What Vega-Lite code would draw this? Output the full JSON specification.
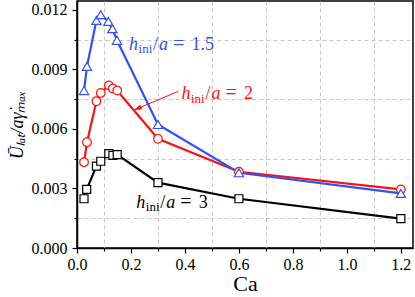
{
  "$schema": "https://vega.github.io/schema/vega-lite/v6.json",
  "width": 336,
  "height": 247,
  "autosize": {"type": "none"},
  "padding": {"left": 77, "top": 1, "right": 2, "bottom": 49},
  "background": "white",
  "config": {
    "view": {"stroke": "black", "strokeWidth": 1.5},
    "font": "Liberation Serif"
  },
  "resolve": {"axis": {"x": "independent", "y": "independent"}},
  "datasets": {
    "series": [
      {"s": "3", "Ca": 0.026, "U": 0.00248},
      {"s": "3", "Ca": 0.036, "U": 0.00295},
      {"s": "3", "Ca": 0.072, "U": 0.00412},
      {"s": "3", "Ca": 0.088, "U": 0.00437},
      {"s": "3", "Ca": 0.118, "U": 0.00475},
      {"s": "3", "Ca": 0.133, "U": 0.00467},
      {"s": "3", "Ca": 0.149, "U": 0.0047},
      {"s": "3", "Ca": 0.3, "U": 0.00329},
      {"s": "3", "Ca": 0.6, "U": 0.00248},
      {"s": "3", "Ca": 1.2, "U": 0.00148},
      {"s": "2", "Ca": 0.026, "U": 0.00432},
      {"s": "2", "Ca": 0.037, "U": 0.00533},
      {"s": "2", "Ca": 0.072, "U": 0.00739},
      {"s": "2", "Ca": 0.088, "U": 0.00781},
      {"s": "2", "Ca": 0.118, "U": 0.00819},
      {"s": "2", "Ca": 0.133, "U": 0.00803},
      {"s": "2", "Ca": 0.149, "U": 0.00793},
      {"s": "2", "Ca": 0.3, "U": 0.0055},
      {"s": "2", "Ca": 0.6, "U": 0.00384},
      {"s": "2", "Ca": 1.2, "U": 0.00295},
      {"s": "1.5", "Ca": 0.026, "U": 0.00793},
      {"s": "1.5", "Ca": 0.037, "U": 0.00915},
      {"s": "1.5", "Ca": 0.072, "U": 0.01146},
      {"s": "1.5", "Ca": 0.088, "U": 0.01175},
      {"s": "1.5", "Ca": 0.116, "U": 0.01141},
      {"s": "1.5", "Ca": 0.131, "U": 0.01105},
      {"s": "1.5", "Ca": 0.148, "U": 0.01046},
      {"s": "1.5", "Ca": 0.3, "U": 0.00622},
      {"s": "1.5", "Ca": 0.6, "U": 0.00379},
      {"s": "1.5", "Ca": 1.2, "U": 0.00275}
    ],
    "labels": [
      {"s": "1.5", "Ca": 0.193, "U": 0.00999, "value": "1.5"},
      {"s": "2", "Ca": 0.387, "U": 0.00748, "value": "2"},
      {"s": "3", "Ca": 0.220, "U": 0.00203, "value": "3"}
    ],
    "arrow": [
      {"Ca": 0.375, "U": 0.00789, "Ca2": 0.226, "U2": 0.00703}
    ]
  },
  "layer": [
    {
      "data": {"name": "series"},
      "mark": {"type": "line", "strokeWidth": 2.2},
      "encoding": {
        "x": {
          "field": "Ca", "type": "quantitative",
          "scale": {"domain": [0, 1.245], "nice": false, "zero": false},
          "axis": {
            "orient": "bottom",
            "title": "Ca",
            "titleFont": "Liberation Serif",
            "titleFontSize": 22,
            "titleFontWeight": "normal",
            "titleColor": "black",
            "titlePadding": 1,
            "values": [0, 0.2, 0.4, 0.6, 0.8, 1.0, 1.2],
            "format": ".1f",
            "labelFont": "Liberation Serif",
            "labelFontSize": 16,
            "labelColor": "black",
            "labelPadding": 3,
            "labelFlush": false,
            "labelOverlap": false,
            "domainColor": "black",
            "domainWidth": 1.5,
            "tickColor": "black",
            "tickWidth": 1.2,
            "tickSize": 5,
            "grid": false,
            "zindex": 1
          }
        },
        "y": {
          "field": "U", "type": "quantitative",
          "scale": {"domain": [0, 0.01244], "nice": false},
          "axis": {
            "orient": "left",
            "title": "Ūₗₐₜ/aγ̇ₘₐₓ",
            "titleFont": "Liberation Serif",
            "titleFontSize": 18,
            "titleFontStyle": "italic",
            "titleFontWeight": "normal",
            "titleColor": "black",
            "titlePadding": 5,
            "values": [0, 0.003, 0.006, 0.009, 0.012],
            "format": ".3f",
            "labelFont": "Liberation Serif",
            "labelFontSize": 16,
            "labelColor": "black",
            "labelPadding": 5,
            "labelFlush": false,
            "labelOverlap": false,
            "domainColor": "black",
            "domainWidth": 1.5,
            "tickColor": "black",
            "tickWidth": 1.2,
            "tickSize": 5,
            "grid": false,
            "zindex": 1
          }
        },
        "color": {
          "field": "s", "type": "nominal",
          "scale": {"domain": ["3", "2", "1.5"], "range": ["#000000", "#ff1010", "#3050f8"]},
          "legend": null
        },
        "order": {"field": "Ca", "type": "quantitative"}
      }
    },
    {
      "data": {"name": "series"},
      "mark": {"type": "point", "filled": false, "fill": "white", "fillOpacity": 1, "strokeWidth": 1.2, "opacity": 1},
      "encoding": {
        "x": {
          "field": "Ca", "type": "quantitative",
          "axis": {
            "orient": "bottom",
            "title": null,
            "values": [0.1, 0.3, 0.5, 0.7, 0.9, 1.1],
            "labels": false,
            "domain": false,
            "tickColor": "black",
            "tickWidth": 1.2,
            "tickSize": 3,
            "grid": true,
            "gridColor": "#c8c8c8",
            "gridDash": [4, 3],
            "gridWidth": 1,
            "zindex": 0
          }
        },
        "y": {
          "field": "U", "type": "quantitative",
          "axis": {
            "orient": "left",
            "title": null,
            "values": [0.0015, 0.0045, 0.0075, 0.0105],
            "labels": false,
            "domain": false,
            "tickColor": "black",
            "tickWidth": 1.2,
            "tickSize": 3,
            "grid": true,
            "gridColor": "#c8c8c8",
            "gridDash": [4, 3],
            "gridWidth": 1,
            "zindex": 0
          }
        },
        "color": {"field": "s", "type": "nominal", "legend": null},
        "shape": {
          "field": "s", "type": "nominal",
          "scale": {"domain": ["3", "2", "1.5"], "range": ["square", "circle", "triangle-up"]},
          "legend": null
        },
        "size": {
          "field": "s", "type": "nominal",
          "scale": {"domain": ["3", "2", "1.5"], "range": [64, 85, 110]},
          "legend": null
        }
      }
    },
    {
      "data": {"name": "arrow"},
      "mark": {"type": "rule", "color": "#ff1010", "strokeWidth": 1},
      "encoding": {
        "x": {"field": "Ca", "type": "quantitative", "axis": null},
        "y": {"field": "U", "type": "quantitative", "axis": null},
        "x2": {"field": "Ca2"},
        "y2": {"field": "U2"}
      }
    },
    {
      "data": {"name": "arrow"},
      "mark": {"type": "point", "shape": "M0,-1L0.5,0.7L-0.5,0.7Z", "filled": true, "color": "#ff1010", "size": 100, "angle": 247, "opacity": 1},
      "encoding": {
        "x": {"field": "Ca2", "type": "quantitative", "axis": null},
        "y": {"field": "U2", "type": "quantitative", "axis": null}
      }
    },
    {
      "data": {"name": "labels"},
      "mark": {"type": "text", "align": "left", "baseline": "alphabetic", "font": "Liberation Serif", "fontSize": 18, "fontStyle": "italic"},
      "encoding": {
        "x": {"field": "Ca", "type": "quantitative", "axis": null},
        "y": {"field": "U", "type": "quantitative", "axis": null},
        "text": {"value": "h"},
        "color": {"field": "s", "type": "nominal", "legend": null}
      }
    },
    {
      "data": {"name": "labels"},
      "mark": {"type": "text", "align": "left", "baseline": "alphabetic", "font": "Liberation Serif", "fontSize": 13, "dx": 9.5, "dy": 3.5},
      "encoding": {
        "x": {"field": "Ca", "type": "quantitative", "axis": null},
        "y": {"field": "U", "type": "quantitative", "axis": null},
        "text": {"value": "ini"},
        "color": {"field": "s", "type": "nominal", "legend": null}
      }
    },
    {
      "data": {"name": "labels"},
      "mark": {"type": "text", "align": "left", "baseline": "alphabetic", "font": "Liberation Serif", "fontSize": 18, "dx": 24},
      "encoding": {
        "x": {"field": "Ca", "type": "quantitative", "axis": null},
        "y": {"field": "U", "type": "quantitative", "axis": null},
        "text": {"value": "/"},
        "color": {"field": "s", "type": "nominal", "legend": null}
      }
    },
    {
      "data": {"name": "labels"},
      "mark": {"type": "text", "align": "left", "baseline": "alphabetic", "font": "Liberation Serif", "fontSize": 18, "fontStyle": "italic", "dx": 30},
      "encoding": {
        "x": {"field": "Ca", "type": "quantitative", "axis": null},
        "y": {"field": "U", "type": "quantitative", "axis": null},
        "text": {"value": "a"},
        "color": {"field": "s", "type": "nominal", "legend": null}
      }
    },
    {
      "data": {"name": "labels"},
      "mark": {"type": "text", "align": "left", "baseline": "alphabetic", "font": "Liberation Serif", "fontSize": 20, "dx": 44},
      "encoding": {
        "x": {"field": "Ca", "type": "quantitative", "axis": null},
        "y": {"field": "U", "type": "quantitative", "axis": null},
        "text": {"value": "="},
        "color": {"field": "s", "type": "nominal", "legend": null}
      }
    },
    {
      "data": {"name": "labels"},
      "mark": {"type": "text", "align": "left", "baseline": "alphabetic", "font": "Liberation Serif", "fontSize": 18, "dx": 62.5},
      "encoding": {
        "x": {"field": "Ca", "type": "quantitative", "axis": null},
        "y": {"field": "U", "type": "quantitative", "axis": null},
        "text": {"field": "value"},
        "color": {"field": "s", "type": "nominal", "legend": null}
      }
    }
  ]
}
